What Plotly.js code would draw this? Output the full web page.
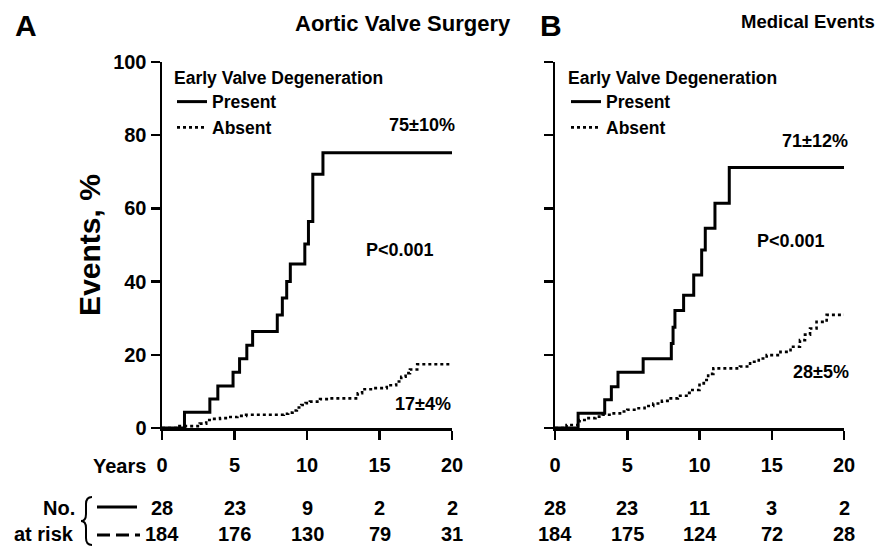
<!DOCTYPE html>
<html>
<head>
<meta charset="utf-8">
<script src="https://cdn.plot.ly/plotly-3.0.1.min.js"></script>
<style>html,body{margin:0;padding:0;background:#fff;}#chart{width:879px;height:547px;}</style>
</head>
<body>
<div id="chart"></div>
<script>
// ---------- Data ----------
// Panel A: Aortic Valve Surgery, cumulative events (%) vs years
const aPresentYears = [0, 1.55, 3.3, 3.85, 4.9, 5.35, 5.85, 6.25, 7.95, 8.3, 8.6, 8.85, 9.85, 10.1, 10.4, 11.1, 20];
const aPresentPct   = [0, 4.3, 7.9, 11.5, 15.2, 18.9, 22.6, 26.4, 30.9, 35.5, 40.0, 44.8, 50.3, 56.4, 69.3, 75.2, 75.2];
const aAbsentYears  = [0, 1.2, 2.6, 3.05, 3.5, 4.0, 4.6, 5.2, 5.8, 8.4, 8.7, 9.0, 9.3, 9.6, 9.9, 10.2, 10.9, 11.5, 13.5, 13.8, 14.6, 15.5, 16.15, 16.5, 16.8, 17.1, 17.6, 20];
const aAbsentPct    = [0, 0.5, 1.2, 2.2, 2.5, 2.7, 3.0, 3.3, 3.6, 3.9, 4.2, 4.8, 5.6, 6.3, 6.8, 7.2, 7.9, 8.1, 9.5, 10.6, 10.9, 11.7, 12.7, 14.0, 15.0, 16.0, 17.4, 17.4];
// Panel B: Medical Events
const bPresentYears = [0, 1.6, 3.44, 3.9, 4.36, 6.1, 8.05, 8.17, 8.3, 8.9, 9.6, 10.15, 10.4, 11.07, 12.06, 20];
const bPresentPct   = [0, 4.0, 7.7, 11.3, 15.2, 18.9, 23.1, 27.5, 32.1, 36.3, 41.8, 48.6, 54.6, 61.4, 71.2, 71.2];
const bAbsentYears  = [0, 0.8, 1.7, 2.2, 2.8, 3.3, 3.9, 4.5, 5.0, 5.6, 6.2, 6.8, 7.4, 7.9, 8.5, 9.1, 9.5, 10.0, 10.3, 10.6, 10.96, 12.8, 13.5, 14.1, 14.65, 15.6, 16.3, 16.95, 17.3, 17.65, 18.1, 18.8, 20];
const bAbsentPct    = [0, 0.8, 2.2, 2.7, 3.1, 3.6, 4.0, 4.5, 5.0, 5.4, 6.0, 6.7, 7.4, 8.1, 8.8, 9.6, 10.4, 12.2, 13.1, 14.8, 16.3, 16.8, 18.1, 19.0, 19.9, 20.8, 22.2, 24.0, 25.5, 27.2, 29.0, 30.9, 30.9];

const xTicks = [0, 5, 10, 15, 20];
const yTicks = [0, 20, 40, 60, 80, 100];
const atRiskYears = [0, 5, 10, 15, 20];
const aRiskPresent = [28, 23, 9, 2, 2];
const aRiskAbsent  = [184, 176, 130, 79, 31];
const bRiskPresent = [28, 23, 11, 3, 2];
const bRiskAbsent  = [184, 175, 124, 72, 28];

const panelTitles = ["Aortic Valve Surgery", "Medical Events"];
const panelLetters = ["A", "B"];
const seriesNames = ["Present", "Absent"];
const legendTitle = "Early Valve Degeneration";
const aLabels = {top: "75±10%", p: "P<0.001", bottom: "17±4%"};
const bLabels = {top: "71±12%", p: "P<0.001", bottom: "28±5%"};

// ---------- Styling ----------
const FONT = "Liberation Sans, Arial, Helvetica, sans-serif";
const W = 879, H = 547;
const px = v => v / W;
const py = v => 1 - v / H;
const solid = {color: "#000", width: 3, shape: "hv", dash: "solid"};
const dotted = {color: "#000", width: 2.6, shape: "hv", dash: "dot"};

const traces = [
  {x: aPresentYears, y: aPresentPct, mode: "lines", line: solid, name: seriesNames[0], xaxis: "x", yaxis: "y", legend: "legend"},
  {x: aAbsentYears, y: aAbsentPct, mode: "lines", line: dotted, name: seriesNames[1], xaxis: "x", yaxis: "y", legend: "legend"},
  {x: bPresentYears, y: bPresentPct, mode: "lines", line: solid, name: seriesNames[0], xaxis: "x2", yaxis: "y2", legend: "legend2"},
  {x: bAbsentYears, y: bAbsentPct, mode: "lines", line: dotted, name: seriesNames[1], xaxis: "x2", yaxis: "y2", legend: "legend2"}
];

const tickFont = {family: FONT, size: 20, color: "#000", weight: "bold"};
const xBase = {
  range: [0, 20], tickvals: xTicks, ticks: "outside", ticklen: 9, tickwidth: 2.5, tickcolor: "#000",
  showline: true, linecolor: "#000", linewidth: 2.5, showgrid: false, zeroline: false,
  tickfont: tickFont, ticklabelstandoff: 8, fixedrange: true
};
const yBase = {
  range: [0, 100], tickvals: yTicks, ticks: "outside", ticklen: 9, tickwidth: 2.5, tickcolor: "#000",
  showline: true, linecolor: "#000", linewidth: 2.5, showgrid: false, zeroline: false,
  tickfont: tickFont, domain: [119 / H, 485 / H], fixedrange: true
};

const legendBase = {
  title: {text: legendTitle, font: {family: FONT, size: 17.5, color: "#000", weight: "bold"}},
  font: {family: FONT, size: 17.5, color: "#000", weight: "bold"},
  bgcolor: "rgba(0,0,0,0)", borderwidth: 0, itemwidth: 30, tracegroupgap: 0,
  xanchor: "left", yanchor: "top", itemclick: false, itemdoubleclick: false
};

const ann = [];
function txt(text, x, y, xref, yref, size, xanchor) {
  ann.push({text: text, x: x, y: y, xref: xref, yref: yref, showarrow: false,
    xanchor: xanchor || "center", yanchor: "middle",
    font: {family: FONT, size: size, color: "#000", weight: "bold"}});
}
// Panel letters and titles
txt(panelLetters[0], px(13), py(25), "paper", "paper", 30, "left");
txt(panelTitles[0], px(513), py(23), "paper", "paper", 22, "right");
txt(panelLetters[1], px(538), py(25), "paper", "paper", 30, "left");
txt(panelTitles[1], px(877), py(21), "paper", "paper", 18.5, "right");
// In-plot labels
txt(aLabels.top, 17.9, 82.8, "x", "y", 18);
txt(aLabels.p, 16.4, 48.6, "x", "y", 18);
txt(aLabels.bottom, 18.0, 6.6, "x", "y", 18);
txt(bLabels.top, 18.0, 78.3, "x2", "y2", 18);
txt(bLabels.p, 16.3, 51.2, "x2", "y2", 18);
txt(bLabels.bottom, 18.4, 15.2, "x2", "y2", 18);
// Years label
txt("Years", px(148), py(466), "paper", "paper", 20, "right");
// Number at risk
txt("No.", px(77), py(508), "paper", "paper", 20, "right");
txt("at risk", px(76), py(534), "paper", "paper", 20, "right");
atRiskYears.forEach((yr, i) => {
  txt(String(aRiskPresent[i]), yr, py(508), "x", "paper", 20);
  txt(String(aRiskAbsent[i]), yr, py(534), "x", "paper", 20);
  txt(String(bRiskPresent[i]), yr, py(508), "x2", "paper", 20);
  txt(String(bRiskAbsent[i]), yr, py(534), "x2", "paper", 20);
});

// brace "{" drawn as a path (pixel -> paper)
function P(x, y) { return (x / W).toFixed(5) + "," + (1 - y / H).toFixed(5); }
const bracePath = "M" + P(92, 497) + " Q" + P(86, 497) + " " + P(86, 504) +
  " L" + P(86, 514) + " Q" + P(86, 521) + " " + P(81, 521) +
  " Q" + P(86, 521) + " " + P(86, 528) + " L" + P(86, 538) +
  " Q" + P(86, 545) + " " + P(92, 545);

const shapes = [
  {type: "path", xref: "paper", yref: "paper", path: bracePath, line: {color: "#000", width: 2}},
  {type: "line", xref: "paper", yref: "paper", x0: px(97), x1: px(137), y0: py(507), y1: py(507), line: {color: "#000", width: 3}},
  {type: "line", xref: "paper", yref: "paper", x0: px(97), x1: px(140), y0: py(535), y1: py(535), line: {color: "#000", width: 3, dash: "13px,6px"}}
];

const layout = {
  width: W, height: H, margin: {l: 0, r: 0, t: 0, b: 0},
  paper_bgcolor: "#fff", plot_bgcolor: "#fff", showlegend: true,
  font: {family: FONT, color: "#000"},
  xaxis: Object.assign({}, xBase, {domain: [162 / W, 452 / W], anchor: "y"}),
  xaxis2: Object.assign({}, xBase, {domain: [555 / W, 844 / W], anchor: "y2"}),
  yaxis: Object.assign({}, yBase, {anchor: "x",
    title: {text: "Events, %", font: {family: FONT, size: 30, color: "#000", weight: "bold"}, standoff: 4}}),
  yaxis2: Object.assign({}, yBase, {anchor: "x2", showticklabels: false}),
  legend: Object.assign({}, legendBase, {x: px(172), y: py(61)}),
  legend2: Object.assign({}, legendBase, {x: px(566), y: py(61)}),
  annotations: ann,
  shapes: shapes
};

Plotly.newPlot("chart", traces, layout, {displayModeBar: false, staticPlot: true});
</script>
</body>
</html>
